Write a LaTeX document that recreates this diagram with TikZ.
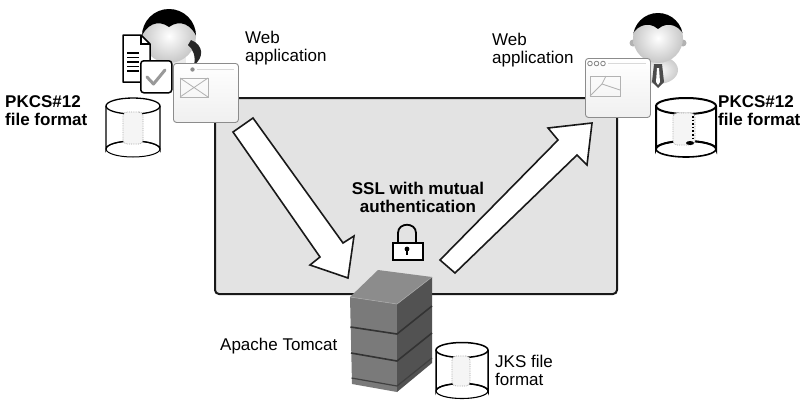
\documentclass[tikz,border=0pt]{standalone}
\usepackage{fontspec}
\setmainfont{Liberation Sans}
\begin{document}
\begin{tikzpicture}[x=1pt,y=-1pt,
  lbl/.style={inner sep=0pt,font=\fontsize{17}{18}\selectfont,align=left},
  lblb/.style={lbl,font=\fontsize{17}{18}\selectfont\bfseries},
  blockarrow/.style={fill=white,draw=black!90,line width=1.6pt,line join=miter},
  appwin/.style={draw=black!45,line width=0.9pt,rounded corners=3pt,top color=white,bottom color=black!6},
  placeholder/.style={draw=black!30,line width=0.8pt},
  drum/.style={draw=black,fill=white},
  keyblob/.style={draw=black!35,densely dotted,fill=black!4,line width=0.8pt,rounded corners=4pt},
]
\useasboundingbox (0,0) rectangle (802,400);

% secure channel panel
\node[draw=black!90,line width=2pt,fill=black!11,rounded corners=4pt,
      minimum width=402pt,minimum height=196pt,anchor=north west,inner sep=0pt]
      (panel) at (214,97) {};

% request arrow (client to server)
\draw[blockarrow] (233,132) coordinate (reqtail) -- (253,118) -- (343,243) -- (354,236)
      -- (348,278) coordinate (reqtip) -- (310,265) -- (320,257) -- cycle;
% response arrow (server to client)
\draw[blockarrow] (440,260) coordinate (restail) -- (558,140) -- (548,128)
      -- (592,123) coordinate (restip) -- (587,165) -- (577,155) -- (455,273) -- cycle;

% channel label and padlock (multi-line labels are placed by their last baseline)
\node[lblb,align=center,anchor=base] (ssl) at (418,212.5) {SSL with mutual\\authentication};
\draw[line width=1.8pt] (398,242) -- (398,233) .. controls (398,222) and (416,222) .. (416,233) -- (416,242);
\node[draw=black,line width=1.5pt,fill=white,minimum width=30pt,minimum height=17pt,inner sep=0pt,anchor=north west]
      (lock) at (392,242) {};
\fill[black] (407,249) circle[radius=2.4];
\fill[black] (405.6,249) rectangle (408.4,255);

% ---------- left user ----------
\begin{scope}
  \fill[black!8] (158,56) rectangle (186,66);
  \shade[inner color=white,outer color=black!22] (169,36) circle[radius=27];
  \begin{scope}
    \clip (169,36) circle[radius=27];
    \fill[black] (140,40) -- (140,0) -- (198,0) -- (198,40)
      .. controls (192,24) and (180,19) .. (169,27)
      .. controls (158,19) and (146,24) .. (140,40) -- cycle;
  \end{scope}
  \fill[black!85] (191,40) .. controls (204,45) and (204,58) .. (194,65)
      .. controls (196,56) and (193,49) .. (188,45) -- cycle;
  \fill[black!35] (141,40) circle[radius=3];
\end{scope}
% certificate document
\draw[line width=1.5pt,fill=white,line join=round] (123,35) -- (141,35) -- (150,44) -- (150,82) -- (123,82) -- cycle;
\draw[line width=1.2pt] (141,35) -- (141,44) -- (150,44);
\foreach \yy in {53,57.5,62,66.5,71} \draw[line width=1.2pt] (127,\yy) -- (139,\yy);
\node[draw=black,line width=1.5pt,fill=white,rounded corners=3pt,minimum width=31pt,minimum height=32pt,
      inner sep=0pt,anchor=north west] (cert) at (140,60) {};
\draw[black!40,line width=3pt,line cap=round,line join=round] (147,77) -- (153.5,84) -- (165,70);
% left application window
\node[appwin,minimum width=65pt,minimum height=59pt,inner sep=0pt,anchor=north west] (appL) at (173,63) {};
\fill[black!45] (192.5,69.5) circle[radius=2.2];
\draw[black!15,line width=0.8pt] (197,69.5) -- (234,69.5);
\draw[placeholder] (180,78) rectangle (208,97);
\draw[placeholder] (180,78) -- (208,97) (208,78) -- (180,97);

% left keystore
\draw[drum,line width=1.3pt] (106,106) -- (106,149) arc[start angle=180,end angle=360,x radius=27,y radius=8]
      -- (160,106);
\draw[line width=1.3pt] (133,106) ellipse[x radius=27,y radius=8];
\draw[line width=1pt] (133,149) ellipse[x radius=27,y radius=8];
\node[keyblob,minimum width=20pt,minimum height=32pt,inner sep=0pt] (storeL) at (133,128) {};
\node[lblb,anchor=base west] (pkL) at (5,125) {PKCS\#12\\file format};

% left application label
\node[lbl,anchor=base west] (webL) at (245,61.5) {Web\\application};

% ---------- right user ----------
\begin{scope}
  \shade[inner color=white,outer color=black!20] (658,70) ellipse[x radius=20,y radius=14];
  \fill[black!70] (654,64) -- (662,64) -- (664,82) -- (658,88) -- (652,82) -- cycle;
  \fill[white] (657,68) -- (659,68) -- (660,82) -- (658,85) -- (656,82) -- cycle;
  \fill[black!30] (633,43) circle[radius=3.5];
  \fill[black!30] (683,43) circle[radius=3.5];
  \shade[inner color=white,outer color=black!22] (658,38) circle[radius=25];
  \begin{scope}
    \clip (658,38) circle[radius=25];
    \fill[black] (630,40) -- (630,0) -- (686,0) -- (686,40)
      .. controls (682,26) and (668,20) .. (658,29)
      .. controls (648,20) and (634,26) .. (630,40) -- cycle;
  \end{scope}
\end{scope}
% right application window
\node[appwin,minimum width=65pt,minimum height=59pt,inner sep=0pt,anchor=north west] (appR) at (585,58) {};
\foreach \xx in {590,596.5,603} \draw[black!50,line width=0.8pt] (\xx,63.5) circle[radius=2.3];
\draw[black!15,line width=0.8pt] (608,63.5) -- (646,63.5);
\draw[placeholder] (590,76) rectangle (620,96);
\draw[placeholder] (590,96) -- (602,84) -- (620,90);
\draw[placeholder] (606,76) -- (602,84);

% right keystore
\draw[drum,line width=2pt] (656,106) -- (656,149) arc[start angle=180,end angle=360,x radius=30,y radius=8]
      -- (716,106);
\draw[line width=2pt] (686,106) ellipse[x radius=30,y radius=8];
\draw[line width=1.6pt] (686,149) ellipse[x radius=30,y radius=8];
\node[keyblob,minimum width=22pt,minimum height=32pt,inner sep=0pt] (storeR) at (684,129) {};
\draw[black,line width=1.6pt,dotted] (693,116) -- (693,140);
\fill[black] (690,143) ellipse[x radius=4,y radius=2];
\node[lblb,anchor=base west] (pkR) at (718,125) {PKCS\#12\\file format};

% right application label
\node[lbl,anchor=base west] (webR) at (492,63) {Web\\application};

% ---------- server ----------
\coordinate (sA) at (350,297);
\coordinate (sB) at (378,270);
\coordinate (sC) at (432,277);
\coordinate (sD) at (397,304);
\coordinate (sE) at (397,392);
\coordinate (sF) at (432,363);
\coordinate (sG) at (352,384);
\fill[black!52] (sA) -- (sD) -- (sE) -- (sG) -- cycle;
\fill[black!68] (sD) -- (sC) -- (sF) -- (sE) -- cycle;
\fill[black!45] (sA) -- (sB) -- (sC) -- (sD) -- cycle;
\draw[black!80,line width=1.6pt] (350.5,327) -- (397,334) -- (432,306);
\draw[black!80,line width=1.6pt] (351,353) -- (397,361) -- (432,333);
\draw[black!75,line width=1.2pt] (351.5,378) -- (397,386) -- (432,358);
\draw[black!35,line width=0.6pt] (sA) -- (sD) -- (sC);
\node[inner sep=0pt,minimum width=82pt,minimum height=122pt] (tomcat) at (391,331) {};
\node[lbl,anchor=base west] (tomcatlbl) at (220,350.5) {Apache Tomcat};

% server keystore
\draw[drum,line width=1.5pt] (436,350) -- (436,391) arc[start angle=180,end angle=360,x radius=26,y radius=7.5]
      -- (488,350);
\draw[line width=1.5pt] (462,350) ellipse[x radius=26,y radius=7.5];
\draw[line width=1.1pt] (462,391) ellipse[x radius=26,y radius=7.5];
\node[keyblob,minimum width=18pt,minimum height=30pt,inner sep=0pt] (storeS) at (461,371) {};
\node[lbl,anchor=base west] (jks) at (495,385) {JKS file\\format};
\end{tikzpicture}
\end{document}
